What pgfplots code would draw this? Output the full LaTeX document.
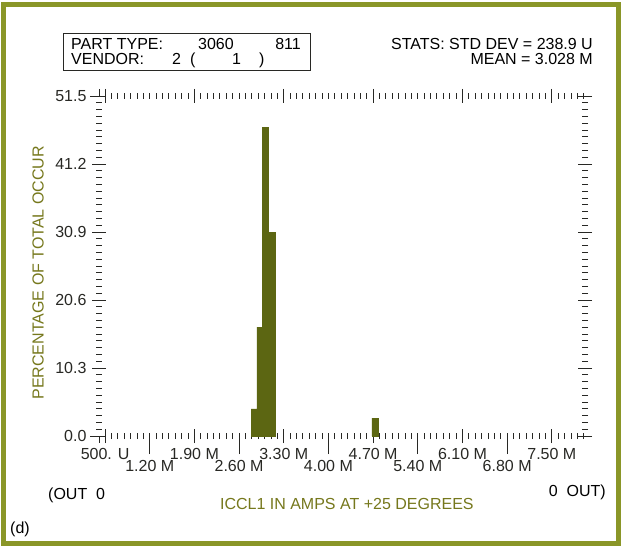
\documentclass[border=0pt]{standalone}
\usepackage{fontspec}
\setmainfont{Liberation Sans}
\usepackage{pgfplots}
\pgfplotsset{compat=1.18}

\definecolor{barcol}{RGB}{92,102,18}
\definecolor{labcol}{RGB}{118,120,28}
\definecolor{framecol}{RGB}{138,150,40}
\definecolor{inkcol}{RGB}{40,40,36}
\newcommand{\fs}{\fontsize{16}{18}\selectfont}

\pgfplotsset{
    panel/.style={
        at={(99pt,113pt)}, anchor=south west,
        width=486pt, height=340pt, scale only axis,
        xmin=0.405, xmax=8.02,
        ymin=0, ymax=51.5,
        axis line style={draw=none},
        every tick/.style={inkcol, line width=0.9pt},
        tick label style={inkcol, font=\fs},
    },
}

\begin{document}
\fs
\begin{tikzpicture}[x=1pt,y=1pt]
\useasboundingbox (0,0) rectangle (621,549);
\fill[white] (0,0) rectangle (621,549);
\draw[framecol, line width=5pt] (3,6) rectangle (618,544);

% lower row of x labels
\begin{axis}[
    panel,
    xtick pos=left, ytick=\empty,
    tick align=outside,
    xtick={1.2,2.6,4.0,5.4,6.8},
    xticklabels={1.20 M,2.60 M,4.00 M,5.40 M,6.80 M},
    major tick length=18pt,
    xticklabel style={yshift=-1pt},
]
\end{axis}

\begin{axis}[
    panel,
    tick align=center,
    xtick={0.5,1.9,3.3,4.7,6.1,7.5},
    xticklabels={500. U,1.90 M,3.30 M,4.70 M,6.10 M,7.50 M},
    minor xtick={0.4,0.5,...,8.0},
    ytick={0,10.3,20.6,30.9,41.2,51.5},
    yticklabels={0.0,10.3,20.6,30.9,41.2,51.5},
    minor y tick num=9,
    major tick length=14pt, minor tick length=6pt,
    xlabel={ICCL1 IN AMPS AT +25 DEGREES},
    ylabel={PERCENTAGE OF TOTAL OCCUR},
    label style={labcol, font=\fs},
    ylabel style={at={(axis description cs:-0.1255,0.48)}, anchor=center},
    xlabel style={at={(axis description cs:0.51,-0.2)}, anchor=center},
    clip=false,
]
% histogram bins, percent of total
\addplot[ybar, bar width=0.1, fill=barcol, draw=barcol, line width=0.5pt]
    coordinates {(2.84,4.1)(2.93,16.5)(3.01,46.7)(3.11,30.9)(4.73,2.7)};
\end{axis}

% long ticks of the lower label row (1.2, 2.6, 4.0, 5.4, 6.8 M)
\foreach \px in {149.7,239.1,328.4,417.8,507.1}
    \draw[inkcol, line width=1.2pt] (\px,113) -- (\px,95);
% corner marks
\draw[inkcol, line width=0.9pt] (90,453) -- (99,453) -- (99,460);
\draw[inkcol, line width=0.9pt] (90,113) -- (99,113) -- (99,106);

% header box
\draw[inkcol, line width=0.8pt] (63,479) rectangle (310,516);
\node[anchor=base west, inner sep=0] at (71,499) {PART TYPE:};
\node[anchor=base west, inner sep=0] at (198,499) {3060};
\node[anchor=base east, inner sep=0] at (301,499) {811};
\node[anchor=base west, inner sep=0] at (71,484) {VENDOR:};
\node[anchor=base west, inner sep=0] at (172,484) {2};
\node[anchor=base west, inner sep=0] at (190,484) {(};
\node[anchor=base west, inner sep=0] at (232,484) {1};
\node[anchor=base west, inner sep=0] at (259,484) {)};

\node[anchor=base east, inner sep=0] at (593,499) {STATS: STD DEV = 238.9 U};
\node[anchor=base east, inner sep=0] at (593,484) {MEAN = 3.028 M};

\node[anchor=base west, inner sep=0] at (48,50) {(OUT\ \ 0};
\node[anchor=base east, inner sep=0] at (606,53) {0\ \ OUT)};
\node[anchor=base west, inner sep=0] at (10,16) {(d)};
\end{tikzpicture}
\end{document}
